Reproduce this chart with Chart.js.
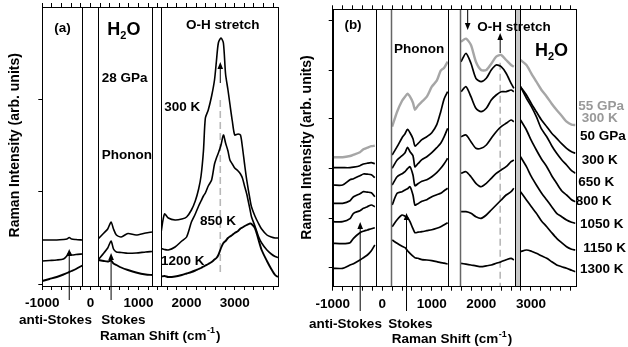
<!DOCTYPE html>
<html>
<head>
<meta charset="utf-8">
<script src="https://cdn.jsdelivr.net/npm/chart.js@4"></script>
<style>
body{margin:0;background:#fff}
#wrap{position:relative;width:628px;height:347px;overflow:hidden}
canvas{position:absolute;top:0}
</style>
</head>
<body>
<div id="wrap">
<canvas id="chartA" width="300" height="347" style="left:0"></canvas>
<canvas id="chartB" width="338" height="347" style="left:290px"></canvas>
</div>
<script>
// panel (a): H2O at 28 GPa, null = blocked region
const shiftA = [-1000, -850, -700, -560, -490, -440, -390, -300, -170, 0,
  160, 280, 360, 430, 480, 540, 640, 780, 950, 1150, 1280, 1380,
  1470, 1540, 1620, 1760, 1900, 2000, 2100, 2180, 2250, 2300, 2350, 2390,
  2450, 2520, 2580, 2620, 2660, 2715, 2765, 2810, 2860, 2900, 2950, 3000,
  3070, 3120, 3160, 3210, 3250, 3320, 3350, 3420, 3490, 3560, 3670, 3760, 3840, 3900];
const a300K = [46, 46, 46, 46.5, 47, 48.5, 47, 46.5, 46, null,
  47, 53, 57, 64, 57, 51, 49, 52.5, 51, 53, 54, null,
  54, 72, 68, 66, 67, 69, 76, 85, 97, 110, 135, 168,
  176, 190, 206, 225, 243, 248, 243, 212, 196, 182, 165, 151,
  152, 151, 139, 120, 106, 86, 79, 70, 63, 57, 51, 49, 48, 48];
const a850K = [25, 25.5, 26, 27, 30, 34, 31, 31.5, 32, null,
  26, 33, 38, 45, 37, 34, 33.5, 32.7, 33, 34, 34.5, null,
  37.5, 36.5, 36, 39, 45, 49, 64, 72, 80, 85, 90, 93,
  100, 106, 122, 128, 133, 141, 151, 143, 135, 126, 122, 118,
  115, 112, 108, 99, 92, 76, 69, 60, 50, 43, 36, 32, 29.5, 28.5];
const a1200K = [5, 7, 9, 11.5, 13, 14, 15, 17, 20.5, null,
  26, 25, 24.5, 25.5, 22.5, 21, 18.5, 16, 13.5, 11.5, 11, null,
  9.5, 10, 9, 9.5, 11, 12.5, 14, 15.5, 17, 18, 19.5, 20.5,
  22, 24, 26.5, 28, 31, 38, 43, 45, 48, 49.5, 51, 53,
  55, 57.5, 58.5, 60, 61, 62.5, 62, 58, 47, 36, 25, 17, 11, 9];

// panel (b): 55 GPa (grey) and 50 GPa at several temperatures
const shiftB = [-1000, -800, -650, -580, -450, -380, -300, -220, -150, 0,
  200, 300, 400, 460, 510, 560, 620, 660, 720, 800, 900, 1000, 1100, 1180, 1250, 1320, 1450,
  1590, 1690, 1790, 1890, 1995, 2100, 2200, 2300, 2400, 2500, 2600, 2655, 2720,
  2790, 2910, 3010, 3110, 3210, 3320, 3420, 3520, 3620, 3720, 3820, 3900];
const b55GPa = [129.5, 129.5, 130.7, 132, 134.5, 137.4, 139, 140.5, 141, null,
  160, 175, 186, 190, 193, 190, 184, 177, 181, 185, 190, 200, 206, 216, 219, 225, null,
  245, 248, 241.7, 225, 216.7, 216.7, 223, 230, 231.7, 226.7, 221.7, 220, null,
  226.7, 221.7, 213, 205, 197, 190, 183, 176.7, 171, 165, 162, 161.7];
const b300K = [119, 119, 119, 119.5, 121, 122.7, 123.5, 124, 123, null,
  131.7, 140, 149, 153, 157.4, 154, 148, 140.7, 143, 147, 150, 154, 162, 175, 188, 195, null,
  225, 233.4, 223.4, 208.4, 205, 208.4, 216.7, 221.7, 220, 213.4, 203.4, 198.4, null,
  200, 191.7, 183, 175, 167, 160, 153.5, 148.4, 143, 138.4, 135, 133.4];
const b650K = [101.7, 101.7, 107, 108, 111, 112.7, 112.5, 112, 109, null,
  118.4, 126.7, 131, 134, 139.4, 135, 131, 120, 123, 127, 130, 134, 139, 143.4, 150, 158.4, null,
  195, 200, 190, 178.4, 175, 178.4, 186.7, 191.7, 195, 195, 196.7, 195, null,
  200, 188.4, 180, 170, 158, 150, 141, 133.4, 127, 121.7, 116, 113.4];
const b800K = [83.4, 83.4, 86, 90, 93, 95, 94.5, 94, 90, null,
  101.7, 110, 113, 115, 118, 120, 111.7, 101, 103, 105.5, 107, 110, 114, 118.4, 123, 128.4, null,
  150, 151.7, 145, 138.4, 138.4, 141.7, 148.4, 155, 160, 163.4, 166.7, 165, null,
  166.7, 156.7, 146, 136.7, 128, 120, 111, 103.4, 96, 91.7, 87, 85];
const b1050K = [65, 65, 68, 73.4, 76, 78.4, 80, 81.7, 80, null,
  81.7, 93.4, 95, 96.7, 98, 100, 91.7, 81.7, 83, 85.5, 87, 90, 92, 93.4, 96, 98.4, null,
  113.4, 115, 110, 103.4, 100, 103.4, 108.4, 113.4, 116.7, 120, 125, 126.7, null,
  130, 120, 110, 101.7, 94, 86.7, 80, 73.4, 70, 66.7, 64.5, 63.4];
const b1150K = [43.4, 43, 44, 48.4, 54, 55.5, 56.7, 58, 59, null,
  60, 67, 71.7, 70.5, 69.4, 65, 58, 54, 54.5, 55, 56, 57, 58.5, 60, 62, 64, null,
  75, 75, 73.4, 70, 68.4, 71.7, 76.7, 81.7, 86.7, 91.7, 95, 98.4, null,
  95, 86.7, 80, 73.4, 66, 60, 54, 48.4, 44, 40, 37.5, 36.7];
const b1300K = [18.4, 18.4, 21.7, 23, 26.7, 29, 31.7, 36, 41.7, null,
  46.7, 43.4, 40.5, 39, 36, 33.4, 30.5, 29, 28.4, 27, 26.7, 26, 25, 24, 23.5, 22.7, null,
  23.4, 22.5, 21.7, 20.8, 20, 20.8, 21.7, 23.4, 25, 27, 28.4, 26.7, null,
  35, 36.7, 35.5, 33.4, 31, 28.4, 25, 21.7, 20, 18.4, 16.5, 15];

const xTickLabels = [-1000, 0, 1000, 2000, 3000];
const yTicksA = [2, 94, 187];
const yTicksB = [19, 68.7, 118, 167.7, 216.7, 266];

const FONT = '"Liberation Sans", Arial, Helvetica, sans-serif';
Chart.defaults.font.family = FONT;
Chart.defaults.font.weight = 'bold';
Chart.defaults.color = '#000';

const minorTicks = [];
for (let v = -1000; v <= 3800; v += 200) minorTicks.push(v);

function pts(xs, ys) {
  return xs.map((x, i) => ({x: x, y: ys[i]}));
}

function px(c, v) { return c.scales.x.getPixelForValue(v); }
function py(c, v) { return c.scales.y.getPixelForValue(v); }

function txt(ctx, s, x, y, align, size, color) {
  ctx.font = 'bold ' + (size || 13.5) + 'px ' + FONT;
  ctx.textAlign = align || 'left';
  ctx.textBaseline = 'middle';
  ctx.fillStyle = color || '#000';
  ctx.fillText(s, x, y);
}

function h2o(ctx, x, base) {
  ctx.textAlign = 'left';
  ctx.textBaseline = 'alphabetic';
  ctx.fillStyle = '#000';
  ctx.font = 'bold 18px ' + FONT;
  ctx.fillText('H', x, base);
  let w = ctx.measureText('H').width;
  ctx.font = 'bold 11px ' + FONT;
  ctx.fillText('2', x + w, base + 4);
  w += ctx.measureText('2').width;
  ctx.font = 'bold 18px ' + FONT;
  ctx.fillText('O', x + w, base);
}

function shiftTitle(ctx, x, y) {
  txt(ctx, 'Raman Shift (cm', x, y);
  let w = ctx.measureText('Raman Shift (cm').width;
  txt(ctx, '-1', x + w + 0.5, y - 5, 'left', 9);
  w += ctx.measureText('-1').width + 1.5;
  txt(ctx, ')', x + w, y);
}

function yTitle(ctx, x, y) {
  ctx.save();
  ctx.translate(x, y);
  ctx.rotate(-Math.PI / 2);
  txt(ctx, 'Raman Intensity (arb. units)', 0, 0, 'center', 14);
  ctx.restore();
}

function arrow(ctx, x, y1, y2) {
  const dir = y1 > y2 ? 1 : -1;
  ctx.save();
  ctx.strokeStyle = '#000';
  ctx.fillStyle = '#000';
  ctx.lineWidth = 1;
  ctx.beginPath();
  ctx.moveTo(x, y1);
  ctx.lineTo(x, y2 + dir * 3);
  ctx.stroke();
  ctx.beginPath();
  ctx.moveTo(x, y2);
  ctx.lineTo(x - 2.8, y2 + dir * 7);
  ctx.lineTo(x + 2.8, y2 + dir * 7);
  ctx.closePath();
  ctx.fill();
  ctx.restore();
}

function dashed(c, x, v1, v2) {
  const ctx = c.ctx;
  ctx.save();
  ctx.strokeStyle = '#b8b8b8';
  ctx.lineWidth = 1.6;
  ctx.setLineDash([7, 4]);
  ctx.beginPath();
  ctx.moveTo(px(c, x), py(c, v1));
  ctx.lineTo(px(c, x), py(c, v2));
  ctx.stroke();
  ctx.restore();
}

function gap(c, from, to, fill, rightColor, rightWidth) {
  const ctx = c.ctx, a = c.chartArea;
  const x1 = Math.round(px(c, from)) + 0.5, x2 = Math.round(px(c, to)) + 0.5;
  ctx.save();
  ctx.fillStyle = fill;
  ctx.fillRect(x1, a.top, x2 - x1, a.bottom - a.top);
  ctx.lineWidth = 1;
  ctx.strokeStyle = '#000';
  ctx.beginPath();
  ctx.moveTo(x1, a.top); ctx.lineTo(x1, a.bottom);
  ctx.stroke();
  ctx.lineWidth = rightWidth || 1;
  ctx.strokeStyle = rightColor || '#000';
  ctx.beginPath();
  ctx.moveTo(x2, a.top); ctx.lineTo(x2, a.bottom);
  ctx.stroke();
  ctx.restore();
}

function frame(c) {
  const ctx = c.ctx, a = c.chartArea;
  ctx.save();
  ctx.strokeStyle = '#000';
  ctx.lineWidth = 1;
  ctx.strokeRect(Math.round(a.left) + 0.5, Math.round(a.top) + 0.5,
    Math.round(a.right - a.left), Math.round(a.bottom - a.top));
  ctx.restore();
}

const decoA = {
  id: 'decoA',
  beforeDatasetsDraw(c) {
    dashed(c, 2700, 186, 11);
  },
  afterDatasetsDraw(c) {
    const ctx = c.ctx;
    gap(c, -168, 152, '#fff');
    gap(c, 1287, 1462, '#fff');
    frame(c);
    arrow(ctx, px(c, 2700), py(c, 203), py(c, 224));
    arrow(ctx, px(c, -440), 300, 249);
    arrow(ctx, px(c, 430), 300, 253);
  },
  afterDraw(c) {
    const ctx = c.ctx;
    txt(ctx, '(a)', 62.5, 28, 'center');
    h2o(ctx, 107.3, 35);
    txt(ctx, 'O-H stretch', 222.8, 25.5, 'center');
    txt(ctx, '28 GPa', 101.7, 78.7);
    txt(ctx, 'Phonon', 101.7, 155);
    txt(ctx, '300 K', 164.3, 107.5);
    txt(ctx, '850 K', 200, 221);
    txt(ctx, '1200 K', 161, 261.7);
    yTitle(ctx, 15.3, 145.3);
    txt(ctx, 'anti-Stokes', 55.5, 320.5, 'center');
    txt(ctx, 'Stokes', 123.3, 320.5, 'center');
    shiftTitle(ctx, 100, 336);
  }
};

const decoB = {
  id: 'decoB',
  beforeDatasetsDraw(c) {
    dashed(c, 2380, 224, 0);
  },
  afterDatasetsDraw(c) {
    const ctx = c.ctx;
    gap(c, -130, 185, '#fff', '#666', 1.5);
    gap(c, 1330, 1568, '#fff', '#666', 1.5);
    gap(c, 2670, 2770, '#c8c8c8', '#000', 1);
    frame(c);
    arrow(ctx, px(c, 2380), py(c, 233.7), py(c, 253.7));
    arrow(ctx, px(c, 1724), py(c, 276.7), py(c, 256.7));
    arrow(ctx, px(c, -445), 311, 222);
    arrow(ctx, px(c, 490), 311, 213);
  },
  afterDraw(c) {
    const ctx = c.ctx;
    txt(ctx, '(b)', 63, 25.5, 'center');
    txt(ctx, 'Phonon', 104, 49);
    txt(ctx, 'O-H stretch', 224, 27.7, 'center');
    h2o(ctx, 245, 56);
    txt(ctx, '55 GPa', 288.3, 106.7, 'left', 13.5, '#999');
    txt(ctx, '300 K', 291.7, 118.3, 'left', 13.5, '#999');
    txt(ctx, '50 GPa', 290, 136.7);
    txt(ctx, '300 K', 291.7, 160.7);
    txt(ctx, '650 K', 288.3, 182.7);
    txt(ctx, '800 K', 285.7, 201.7);
    txt(ctx, '1050 K', 290, 224);
    txt(ctx, '1150 K', 293.3, 248.3);
    txt(ctx, '1300 K', 290, 269.3);
    yTitle(ctx, 16.7, 147.5);
    txt(ctx, 'anti-Stokes', 55.5, 324, 'center');
    txt(ctx, 'Stokes', 120.3, 324, 'center');
    shiftTitle(ctx, 101.7, 339.5);
  }
};

function makeChart(id, o) {
  const tickGrid = {drawOnChartArea: false, tickLength: 4, color: '#000', lineWidth: 1};
  return new Chart(document.getElementById(id), {
    type: 'line',
    data: {
      datasets: o.series.map(s => ({
        data: pts(o.shift, s.values),
        borderColor: s.color,
        borderWidth: s.width,
        pointRadius: 0,
        tension: 0.25,
        fill: false,
        spanGaps: false
      }))
    },
    options: {
      responsive: false,
      animation: false,
      layout: {padding: o.pad},
      plugins: {legend: {display: false}, tooltip: {enabled: false}},
      scales: {
        x: {
          type: 'linear', position: 'bottom', min: -1000, max: 3900,
          afterBuildTicks: s => { s.ticks = minorTicks.map(v => ({value: v})); },
          afterFit: s => { s.height = o.xh; },
          ticks: {
            autoSkip: false, maxRotation: 0, padding: 5,
            font: {size: 13.5, weight: 'bold'},
            callback: v => xTickLabels.includes(v) ? String(v) : ''
          },
          grid: tickGrid,
          border: {color: '#000'}
        },
        xTop: {
          type: 'linear', position: 'top', min: -1000, max: 3900,
          afterBuildTicks: s => { s.ticks = minorTicks.map(v => ({value: v})); },
          afterFit: s => { s.height = 0; },
          ticks: {display: false},
          grid: tickGrid,
          border: {color: '#000'}
        },
        y: {
          type: 'linear', min: 0, max: o.ymax,
          afterBuildTicks: s => { s.ticks = o.yTicks.map(v => ({value: v})); },
          afterFit: s => { s.width = o.yw; },
          ticks: {display: false},
          grid: tickGrid,
          border: {color: '#000'}
        }
      }
    },
    plugins: [o.deco]
  });
}

makeChart('chartA', {
  shift: shiftA,
  series: [
    {values: a300K, color: '#000', width: 1.6},
    {values: a850K, color: '#000', width: 1.6},
    {values: a1200K, color: '#000', width: 1.9}
  ],
  pad: {left: 0, right: 22, top: 7, bottom: 0},
  xh: 61, yw: 42.3, ymax: 279, yTicks: yTicksA, deco: decoA
});

makeChart('chartB', {
  shift: shiftB,
  series: [
    {values: b55GPa, color: '#a6a6a6', width: 2.4},
    {values: b300K, color: '#000', width: 1.7},
    {values: b650K, color: '#000', width: 1.7},
    {values: b800K, color: '#000', width: 1.7},
    {values: b1050K, color: '#000', width: 1.7},
    {values: b1150K, color: '#000', width: 1.7},
    {values: b1300K, color: '#000', width: 1.7}
  ],
  pad: {left: 0, right: 52.5, top: 9.3, bottom: 0},
  xh: 60.3, yw: 42.7, ymax: 277.4, yTicks: yTicksB, deco: decoB
});
</script>
</body>
</html>
